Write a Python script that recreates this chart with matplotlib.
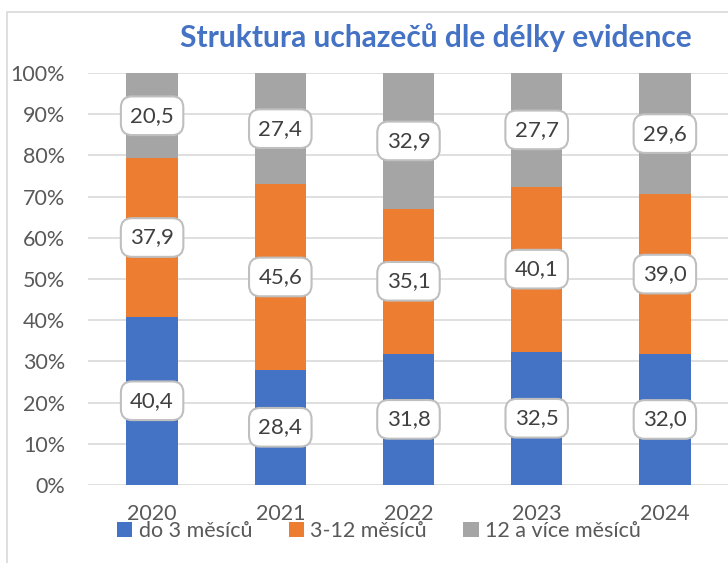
import matplotlib
matplotlib.use("Agg")
import matplotlib.pyplot as plt
import numpy as np
from matplotlib.patches import Rectangle

plt.rcParams['font.family'] = ['Lato', 'DejaVu Sans']

years = ["2020", "2021", "2022", "2023", "2024"]
series_names = ["do 3 měsíců", "3-12 měsíců", "12 a více měsíců"]
do3 = [40.4, 28.4, 31.8, 32.5, 32.0]
m3_12 = [37.9, 45.6, 35.1, 40.1, 39.0]
m12plus = [20.5, 27.4, 32.9, 27.7, 29.6]
colors = ["#4472C4", "#ED7D31", "#A5A5A5"]
title = "Struktura uchazečů dle délky evidence"

W, H = 728, 563
fig = plt.figure(figsize=(W / 100, H / 100), dpi=100)
ax = fig.add_axes([88 / W, 1 - 485 / H, (729 - 88) / W, (485 - 73) / H])

data = np.array([do3, m3_12, m12plus])
totals = data.sum(axis=0)
pct = data / totals * 100
x = np.arange(len(years))
bottom = np.zeros(len(years))
for i in range(3):
    ax.bar(x, pct[i], bottom=bottom, width=0.4, color=colors[i], label=series_names[i], zorder=2)
    for j in range(len(years)):
        ax.text(x[j], bottom[j] + pct[i][j] / 2, f"{data[i][j]:.1f}".replace(".", ","),
                ha="center", va="center", fontsize=16, color="#404040", zorder=4,
                bbox=dict(boxstyle="round,pad=0.42,rounding_size=0.5", fc="white", ec="#BFBFBF", lw=1.5))
    bottom += pct[i]

ax.set_xlim(-0.5, len(years) - 0.5)
ax.set_ylim(0, 100)
ax.set_yticks(np.arange(0, 101, 10))
ax.set_yticklabels([f"{v}%" for v in range(0, 101, 10)])
ax.set_xticks(x)
ax.set_xticklabels(years)
ax.yaxis.grid(True, color="#D9D9D9", lw=1.2, zorder=0)
ax.set_axisbelow(True)
for s in ax.spines.values():
    s.set_visible(False)
ax.tick_params(axis="both", length=0, labelsize=15.5, colors="#595959")
ax.tick_params(axis="y", pad=16.5)
ax.tick_params(axis="x", pad=14)

fig.text(436 / W, 1 - 38 / H, title, ha="center", va="center", fontsize=21.5,
         fontweight="bold", color="#4472C4")

leg = fig.legend(loc="center", bbox_to_anchor=(379 / W, 1 - 531 / H), ncol=3, frameon=False,
                 fontsize=15.5, handlelength=0.7, handleheight=0.7, handletextpad=0.3,
                 columnspacing=1.7, labelcolor="#595959")

fig.patches.append(Rectangle((7 / W, -0.1), 1.2, 1 - 12 / H + 0.1, transform=fig.transFigure,
                             fill=False, ec="#D9D9D9", lw=1.2))

fig.savefig("out.png", dpi=100)
